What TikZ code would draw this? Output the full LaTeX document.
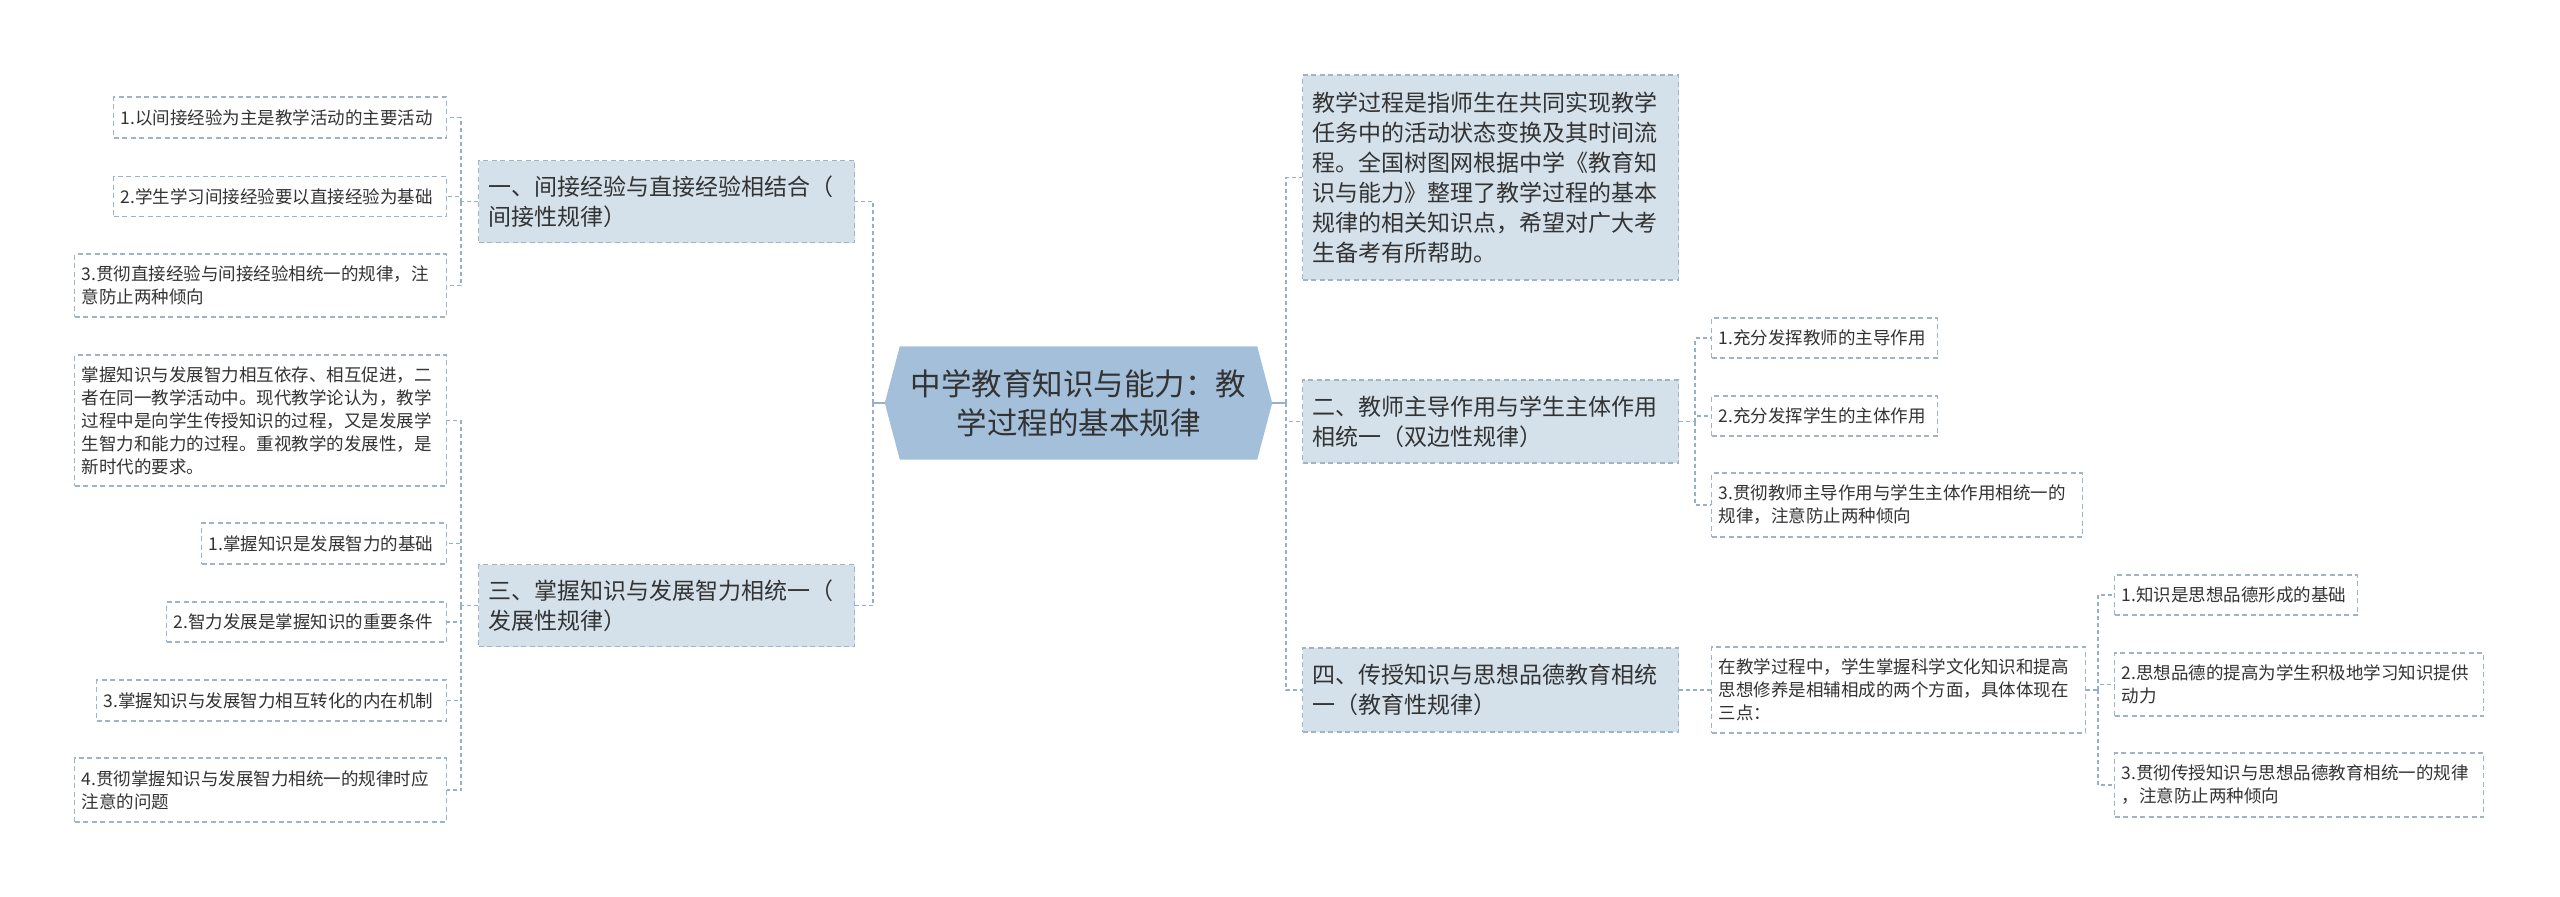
\documentclass[tikz,border=0pt]{standalone}
\usepackage{fontspec}
\setmainfont{Noto Sans CJK SC}
\usetikzlibrary{backgrounds}
\definecolor{rootfill}{RGB}{164,191,218}
\definecolor{branchfill}{RGB}{212,225,235}
\definecolor{boxline}{RGB}{160,180,198}
\definecolor{linkcol}{RGB}{150,176,202}
\definecolor{txt}{RGB}{51,51,51}

\begin{document}
\begin{tikzpicture}[x=1pt, y=-1pt,
    mmbox/.style={draw=boxline, dash pattern=on 5pt off 3.5pt, line width=1.4pt,
        text=txt, align=left, inner ysep=0pt, anchor=west},
    leaf/.style={mmbox, fill=white, inner xsep=7pt,
        font=\fontsize{17.5pt}{23pt}\selectfont},
    branch/.style={mmbox, fill=branchfill, inner xsep=10pt, text width=356pt,
        font=\fontsize{23pt}{30pt}\selectfont},
    link/.style={draw=linkcol, dash pattern=on 4pt off 3pt, line width=1.5pt},
    stub/.style={draw=linkcol, line width=1.8pt}]

    \useasboundingbox (0,0) rectangle (2560,897);

    % Root
    \node[text=txt, align=center, minimum width=387pt, minimum height=113pt,
        font=\fontsize{30.5pt}{39pt}\selectfont] (root) at (1078.5,403)
        {中学教育知识与能力：教\\学过程的基本规律};
    \begin{pgfonlayer}{background}
        \fill[rootfill] (root.west) -- ([xshift=15pt]root.north west)
            -- ([xshift=-15pt]root.north east) -- (root.east)
            -- ([xshift=-15pt]root.south east) -- ([xshift=15pt]root.south west)
            -- cycle;
    \end{pgfonlayer}

    % Left branches
    \node[branch, minimum height=82pt] (L1) at (478,201.5)
        {一、间接经验与直接经验相结合（\\间接性规律）};
    \node[branch, minimum height=82pt] (L3) at (478,605.5)
        {三、掌握知识与发展智力相统一（\\发展性规律）};

    % Leaves of L1
    \node[leaf, text width=319pt, minimum height=41pt] (a1) at (113,117.5)
        {1.以间接经验为主是教学活动的主要活动};
    \node[leaf, text width=319pt, minimum height=40pt] (a2) at (113,196.5)
        {2.学生学习间接经验要以直接经验为基础};
    \node[leaf, text width=358pt, minimum height=63pt] (a3) at (74,285.5)
        {3.贯彻直接经验与间接经验相统一的规律，注\\意防止两种倾向};

    % Leaves of L3
    \node[leaf, text width=358pt, minimum height=131pt] (b0) at (74,420.5)
        {掌握知识与发展智力相互依存、相互促进，二\\者在同一教学活动中。现代教学论认为，教学\\过程中是向学生传授知识的过程，又是发展学\\生智力和能力的过程。重视教学的发展性，是\\新时代的要求。};
    \node[leaf, text width=231pt, minimum height=41pt] (b1) at (201,543.5)
        {1.掌握知识是发展智力的基础};
    \node[leaf, text width=266pt, minimum height=40pt] (b2) at (166,622)
        {2.智力发展是掌握知识的重要条件};
    \node[leaf, text width=336pt, minimum height=41pt] (b3) at (96,700.5)
        {3.掌握知识与发展智力相互转化的内在机制};
    \node[leaf, text width=358pt, minimum height=64pt] (b4) at (74,790)
        {4.贯彻掌握知识与发展智力相统一的规律时应\\注意的问题};

    % Right branches
    \node[branch, minimum height=205pt] (intro) at (1302,177.5)
        {教学过程是指师生在共同实现教学\\任务中的活动状态变换及其时间流\\程。全国树图网根据中学《教育知\\识与能力》整理了教学过程的基本\\规律的相关知识点，希望对广大考\\生备考有所帮助。};
    \node[branch, minimum height=83pt] (R2) at (1302,421.5)
        {二、教师主导作用与学生主体作用\\相统一（双边性规律）};
    \node[branch, minimum height=84pt] (R4) at (1302,690)
        {四、传授知识与思想品德教育相统\\一（教育性规律）};

    % Leaves of R2
    \node[leaf, text width=212pt, minimum height=40pt] (c1) at (1711,338)
        {1.充分发挥教师的主导作用};
    \node[leaf, text width=212pt, minimum height=40pt] (c2) at (1711,416)
        {2.充分发挥学生的主体作用};
    \node[leaf, text width=357pt, minimum height=64pt] (c3) at (1711,505)
        {3.贯彻教师主导作用与学生主体作用相统一的\\规律，注意防止两种倾向};

    % R4 and its points
    \node[leaf, text width=360pt, minimum height=86pt] (d0) at (1711,690)
        {在教学过程中，学生掌握科学文化知识和提高\\思想修养是相辅相成的两个方面，具体体现在\\三点：};
    \node[leaf, text width=229pt, minimum height=40pt] (e1) at (2114,595)
        {1.知识是思想品德形成的基础};
    \node[leaf, text width=355pt, minimum height=63pt] (e2) at (2114,684.5)
        {2.思想品德的提高为学生积极地学习知识提供\\动力};
    \node[leaf, text width=355pt, minimum height=64pt] (e3) at (2114,785)
        {3.贯彻传授知识与思想品德教育相统一的规律\\，注意防止两种倾向};

    % Connectors
    \coordinate (busL) at (873,403);
    \coordinate (busR) at (1286,403);
    \coordinate (busA) at (461,201.5);
    \coordinate (busB) at (461,605.5);
    \coordinate (busC) at (1695,421.5);
    \coordinate (busE) at (2098,690);

    \draw[stub] (root.west) -- (busL);
    \draw[stub] (root.east) -- (busR);
    \foreach \n in {L1,L3}
        \draw[link] (busL) |- (\n.east);
    \foreach \n in {intro,R2,R4}
        \draw[link] (busR) |- (\n.west);

    \draw[link] (L1.west) -- (busA);
    \foreach \n in {a1,a2,a3}
        \draw[link] (busA) |- (\n.east);
    \draw[link] (L3.west) -- (busB);
    \foreach \n in {b0,b1,b2,b3,b4}
        \draw[link] (busB) |- (\n.east);

    \draw[link] (R2.east) -- (busC);
    \foreach \n in {c1,c2,c3}
        \draw[link] (busC) |- (\n.west);
    \draw[link] (R4.east) -- (d0.west);
    \draw[link] (d0.east) -- (busE);
    \foreach \n in {e1,e2,e3}
        \draw[link] (busE) |- (\n.west);

\end{tikzpicture}
\end{document}
